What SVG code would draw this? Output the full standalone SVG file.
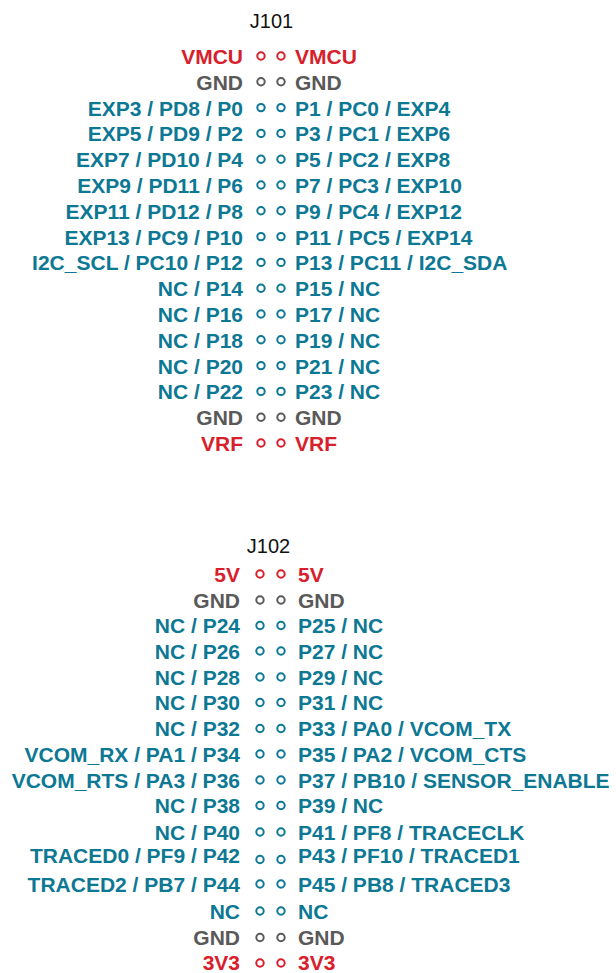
<svg xmlns="http://www.w3.org/2000/svg" width="616" height="973" viewBox="0 0 616 973">
<style>
text{font-family:"Liberation Sans",Arial,Helvetica,sans-serif}
.lab{font-size:21px;font-weight:bold}
.L{text-anchor:end}
.ttl{font-size:20px;fill:#111;text-anchor:middle}
.t{fill:#0d7894}.r{fill:#d7202b}.g{fill:#595959}
circle{fill:#fff;stroke-width:2}
.ct{stroke:#0d7894}.cr{stroke:#d7202b}.cg{stroke:#595959}
</style>
<rect width="616" height="973" fill="#fff"/>
<g id="J101">
<text id="J101-title" class="ttl" x="271.5" y="28">J101</text>
<g id="J101-1"><text class="lab L r" x="243" y="64">VMCU</text><circle class="cr" cx="261" cy="56" r="3.7"/><circle class="cr" cx="281" cy="56" r="3.7"/><text class="lab r" x="295" y="64">VMCU</text></g>
<g id="J101-2"><text class="lab L g" x="243" y="89.8">GND</text><circle class="cg" cx="261" cy="81.8" r="3.7"/><circle class="cg" cx="281" cy="81.8" r="3.7"/><text class="lab g" x="295" y="89.8">GND</text></g>
<g id="J101-3"><text class="lab L t" x="243" y="115.6">EXP3 / PD8 / P0</text><circle class="ct" cx="261" cy="107.6" r="3.7"/><circle class="ct" cx="281" cy="107.6" r="3.7"/><text class="lab t" x="295" y="115.6">P1 / PC0 / EXP4</text></g>
<g id="J101-4"><text class="lab L t" x="243" y="141.4">EXP5 / PD9 / P2</text><circle class="ct" cx="261" cy="133.4" r="3.7"/><circle class="ct" cx="281" cy="133.4" r="3.7"/><text class="lab t" x="295" y="141.4">P3 / PC1 / EXP6</text></g>
<g id="J101-5"><text class="lab L t" x="243" y="167.2">EXP7 / PD10 / P4</text><circle class="ct" cx="261" cy="159.2" r="3.7"/><circle class="ct" cx="281" cy="159.2" r="3.7"/><text class="lab t" x="295" y="167.2">P5 / PC2 / EXP8</text></g>
<g id="J101-6"><text class="lab L t" x="243" y="193">EXP9 / PD11 / P6</text><circle class="ct" cx="261" cy="185" r="3.7"/><circle class="ct" cx="281" cy="185" r="3.7"/><text class="lab t" x="295" y="193">P7 / PC3 / EXP10</text></g>
<g id="J101-7"><text class="lab L t" x="243" y="218.8">EXP11 / PD12 / P8</text><circle class="ct" cx="261" cy="210.8" r="3.7"/><circle class="ct" cx="281" cy="210.8" r="3.7"/><text class="lab t" x="295" y="218.8">P9 / PC4 / EXP12</text></g>
<g id="J101-8"><text class="lab L t" x="243" y="244.6">EXP13 / PC9 / P10</text><circle class="ct" cx="261" cy="236.6" r="3.7"/><circle class="ct" cx="281" cy="236.6" r="3.7"/><text class="lab t" x="295" y="244.6">P11 / PC5 / EXP14</text></g>
<g id="J101-9"><text class="lab L t" x="243" y="270.4">I2C_SCL / PC10 / P12</text><circle class="ct" cx="261" cy="262.4" r="3.7"/><circle class="ct" cx="281" cy="262.4" r="3.7"/><text class="lab t" x="295" y="270.4">P13 / PC11 / I2C_SDA</text></g>
<g id="J101-10"><text class="lab L t" x="243" y="296.2">NC / P14</text><circle class="ct" cx="261" cy="288.2" r="3.7"/><circle class="ct" cx="281" cy="288.2" r="3.7"/><text class="lab t" x="295" y="296.2">P15 / NC</text></g>
<g id="J101-11"><text class="lab L t" x="243" y="322">NC / P16</text><circle class="ct" cx="261" cy="314" r="3.7"/><circle class="ct" cx="281" cy="314" r="3.7"/><text class="lab t" x="295" y="322">P17 / NC</text></g>
<g id="J101-12"><text class="lab L t" x="243" y="347.8">NC / P18</text><circle class="ct" cx="261" cy="339.8" r="3.7"/><circle class="ct" cx="281" cy="339.8" r="3.7"/><text class="lab t" x="295" y="347.8">P19 / NC</text></g>
<g id="J101-13"><text class="lab L t" x="243" y="373.6">NC / P20</text><circle class="ct" cx="261" cy="365.6" r="3.7"/><circle class="ct" cx="281" cy="365.6" r="3.7"/><text class="lab t" x="295" y="373.6">P21 / NC</text></g>
<g id="J101-14"><text class="lab L t" x="243" y="399.4">NC / P22</text><circle class="ct" cx="261" cy="391.4" r="3.7"/><circle class="ct" cx="281" cy="391.4" r="3.7"/><text class="lab t" x="295" y="399.4">P23 / NC</text></g>
<g id="J101-15"><text class="lab L g" x="243" y="425.2">GND</text><circle class="cg" cx="261" cy="417.2" r="3.7"/><circle class="cg" cx="281" cy="417.2" r="3.7"/><text class="lab g" x="295" y="425.2">GND</text></g>
<g id="J101-16"><text class="lab L r" x="243" y="451">VRF</text><circle class="cr" cx="261" cy="443" r="3.7"/><circle class="cr" cx="281" cy="443" r="3.7"/><text class="lab r" x="295" y="451">VRF</text></g>
</g>
<g id="J102">
<text id="J102-title" class="ttl" x="268.5" y="553">J102</text>
<g id="J102-1"><text class="lab L r" x="240" y="581.5">5V</text><circle class="cr" cx="260" cy="574" r="3.7"/><circle class="cr" cx="281" cy="574" r="3.7"/><text class="lab r" x="298" y="581.5">5V</text></g>
<g id="J102-2"><text class="lab L g" x="240" y="607.5">GND</text><circle class="cg" cx="260" cy="600" r="3.7"/><circle class="cg" cx="281" cy="600" r="3.7"/><text class="lab g" x="298" y="607.5">GND</text></g>
<g id="J102-3"><text class="lab L t" x="240" y="633">NC / P24</text><circle class="ct" cx="260" cy="625.5" r="3.7"/><circle class="ct" cx="281" cy="625.5" r="3.7"/><text class="lab t" x="298" y="633">P25 / NC</text></g>
<g id="J102-4"><text class="lab L t" x="240" y="658.5">NC / P26</text><circle class="ct" cx="260" cy="651" r="3.7"/><circle class="ct" cx="281" cy="651" r="3.7"/><text class="lab t" x="298" y="658.5">P27 / NC</text></g>
<g id="J102-5"><text class="lab L t" x="240" y="684.5">NC / P28</text><circle class="ct" cx="260" cy="677" r="3.7"/><circle class="ct" cx="281" cy="677" r="3.7"/><text class="lab t" x="298" y="684.5">P29 / NC</text></g>
<g id="J102-6"><text class="lab L t" x="240" y="710">NC / P30</text><circle class="ct" cx="260" cy="702.5" r="3.7"/><circle class="ct" cx="281" cy="702.5" r="3.7"/><text class="lab t" x="298" y="710">P31 / NC</text></g>
<g id="J102-7"><text class="lab L t" x="240" y="736">NC / P32</text><circle class="ct" cx="260" cy="728.5" r="3.7"/><circle class="ct" cx="281" cy="728.5" r="3.7"/><text class="lab t" x="298" y="736">P33 / PA0 / VCOM_TX</text></g>
<g id="J102-8"><text class="lab L t" x="240" y="761.5">VCOM_RX / PA1 / P34</text><circle class="ct" cx="260" cy="754" r="3.7"/><circle class="ct" cx="281" cy="754" r="3.7"/><text class="lab t" x="298" y="761.5">P35 / PA2 / VCOM_CTS</text></g>
<g id="J102-9"><text class="lab L t" x="240" y="787.5">VCOM_RTS / PA3 / P36</text><circle class="ct" cx="260" cy="780" r="3.7"/><circle class="ct" cx="281" cy="780" r="3.7"/><text class="lab t" x="298" y="787.5">P37 / PB10 / SENSOR_ENABLE</text></g>
<g id="J102-10"><text class="lab L t" x="240" y="813">NC / P38</text><circle class="ct" cx="260" cy="805.5" r="3.7"/><circle class="ct" cx="281" cy="805.5" r="3.7"/><text class="lab t" x="298" y="813">P39 / NC</text></g>
<g id="J102-11"><text class="lab L t" x="240" y="839.5">NC / P40</text><circle class="ct" cx="260" cy="832" r="3.7"/><circle class="ct" cx="281" cy="832" r="3.7"/><text class="lab t" x="298" y="839.5">P41 / PF8 / TRACECLK</text></g>
<g id="J102-12"><text class="lab L t" x="240" y="862.5">TRACED0 / PF9 / P42</text><circle class="ct" cx="260" cy="859.5" r="3.7"/><circle class="ct" cx="281" cy="859.5" r="3.7"/><text class="lab t" x="298" y="862.5">P43 / PF10 / TRACED1</text></g>
<g id="J102-13"><text class="lab L t" x="240" y="891.5">TRACED2 / PB7 / P44</text><circle class="ct" cx="260" cy="884" r="3.7"/><circle class="ct" cx="281" cy="884" r="3.7"/><text class="lab t" x="298" y="891.5">P45 / PB8 / TRACED3</text></g>
<g id="J102-14"><text class="lab L t" x="240" y="918.5">NC</text><circle class="ct" cx="260" cy="911" r="3.7"/><circle class="ct" cx="281" cy="911" r="3.7"/><text class="lab t" x="298" y="918.5">NC</text></g>
<g id="J102-15"><text class="lab L g" x="240" y="945">GND</text><circle class="cg" cx="260" cy="937.5" r="3.7"/><circle class="cg" cx="281" cy="937.5" r="3.7"/><text class="lab g" x="298" y="945">GND</text></g>
<g id="J102-16"><text class="lab L r" x="240" y="970">3V3</text><circle class="cr" cx="260" cy="963" r="3.7"/><circle class="cr" cx="281" cy="963" r="3.7"/><text class="lab r" x="298" y="970">3V3</text></g>
</g>
</svg>
